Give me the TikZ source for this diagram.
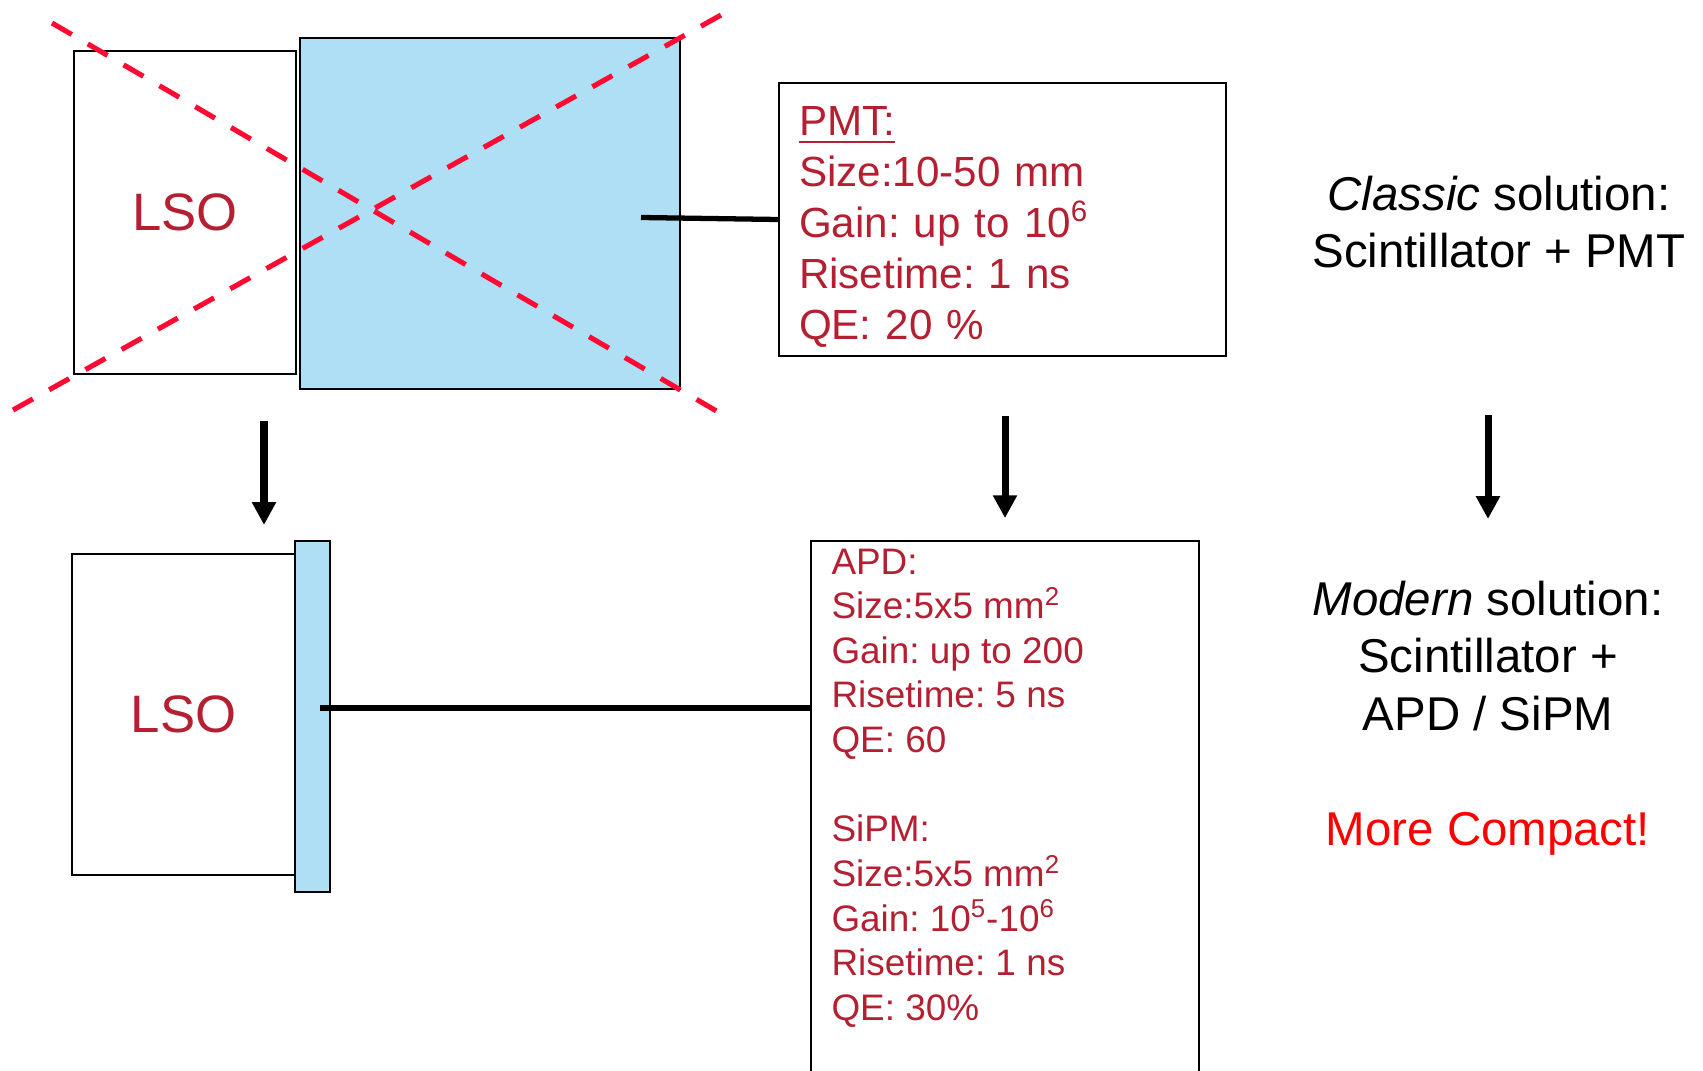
\documentclass[tikz,border=0pt]{standalone}
\usepackage{fontspec}
\setmainfont{Liberation Sans}
\usetikzlibrary{arrows.meta,positioning}
\definecolor{lsored}{HTML}{B41F32}
\definecolor{crossred}{HTML}{FF0A33}
\definecolor{sensorblue}{HTML}{AFDFF5}
\definecolor{alertred}{HTML}{FF0000}
\newcommand{\pmthead}[1]{\setbox0\hbox{#1}\rlap{\rule[-4.6pt]{\wd0}{1.2pt}}#1}
\frenchspacing

\begin{document}
\begin{tikzpicture}[
  x=0.02cm,y=-0.02cm,
  frame/.style={draw,line width=1.1pt,inner sep=0pt},
  crystal/.style={frame,text=lsored,font=\fontsize{30}{36}\selectfont},
  sensor/.style={frame,fill=sensorblue},
  listing/.style={align=left,text=lsored,inner sep=0pt,font=\fontsize{21}{25.4}\selectfont},
  caption/.style={align=center,inner sep=0pt,font=\fontsize{27}{32.8}\selectfont},
  link/.style={line width=3pt},
  down/.style={-{Triangle[length=13pt,width=13pt]},line width=4pt},
  cross/.style={draw=crossred,line width=2.9pt,dash pattern=on 13pt off 10.6pt}
]
\path[use as bounding box] (0,0) rectangle (1703,1071);
\clip (0,0) rectangle (1703,1071);

% classic: crystal + PMT
\node[crystal,minimum width=4.45cm,minimum height=6.46cm] (lsotop) at (185.2,212.5) {LSO};
\node[sensor,minimum width=7.6cm,minimum height=7.02cm] (pmt) at (490,213.5) {};
\node[frame,align=left,text=lsored,font=\fontsize{24}{29}\selectfont,
  text width=231.6pt,inner xsep=11.4pt,minimum height=5.46cm] (pmtinfo) at (1002.5,219.5)
  {\rule{0pt}{24.6pt}\pmthead{PMT:}\\Size:10-50 mm\\Gain: up to 10\textsuperscript{6}\\Risetime: 1 ns\\QE: 20 \%};
\coordinate (pmttap) at (641,217.5);
\draw[link] (pmttap) -- (pmtinfo.west);

% crossed out
\coordinate (crossA1) at (52,23);
\coordinate (crossA2) at (725,416);
\coordinate (crossB1) at (13,410);
\coordinate (crossB2) at (730,10);
\draw[cross] (crossA1) -- (crossA2);
\draw[cross] (crossB1) -- (crossB2);

% modern: crystal + APD / SiPM
\node[crystal,minimum width=4.46cm,minimum height=6.42cm] (lsobot) at (183.5,714.5) {LSO};
\node[sensor,minimum width=0.7cm,minimum height=7.02cm] (apd) at (312.5,716.5) {};
\node[frame,minimum width=7.76cm,minimum height=12cm] (apdbox) at (1005,841) {};
\node[listing,below right=4.7pt and 12pt of apdbox.north west] (apdinfo)
  {APD:\\Size:5x5 mm\textsuperscript{2}\\Gain: up to 200\\Risetime: 5 ns\\QE: 60\\[25.4pt]
   SiPM:\\Size:5x5 mm\textsuperscript{2}\\Gain: 10\textsuperscript{5}-10\textsuperscript{6}\\Risetime: 1 ns\\QE: 30\%};
\coordinate (apdtap) at (320,708);
\draw[link] (apdtap) -- (apdtap -| apdbox.west);

% captions
\node[caption] (classic) at (1499,222) {\textit{Classic} solution:\\Scintillator + PMT};
\node[caption] (modern) at (1488,656) {\textit{Modern} solution:\\Scintillator +\\APD / SiPM};
\node[caption,text=alertred] (compact) at (1488,834) {More Compact!};

% arrows
\coordinate (dropL) at (264,421);
\draw[down,shorten >=16pt] (dropL) -- (dropL |- lsobot.north);
\draw[down,shorten <=33.6pt,shorten >=12.5pt] (apdbox.north |- pmtinfo.south) -- (apdbox.north);
\coordinate (dropR) at (1488,415);
\coordinate (landR) at (1488,519);
\draw[down] (dropR) -- (landR);
\end{tikzpicture}
\end{document}
